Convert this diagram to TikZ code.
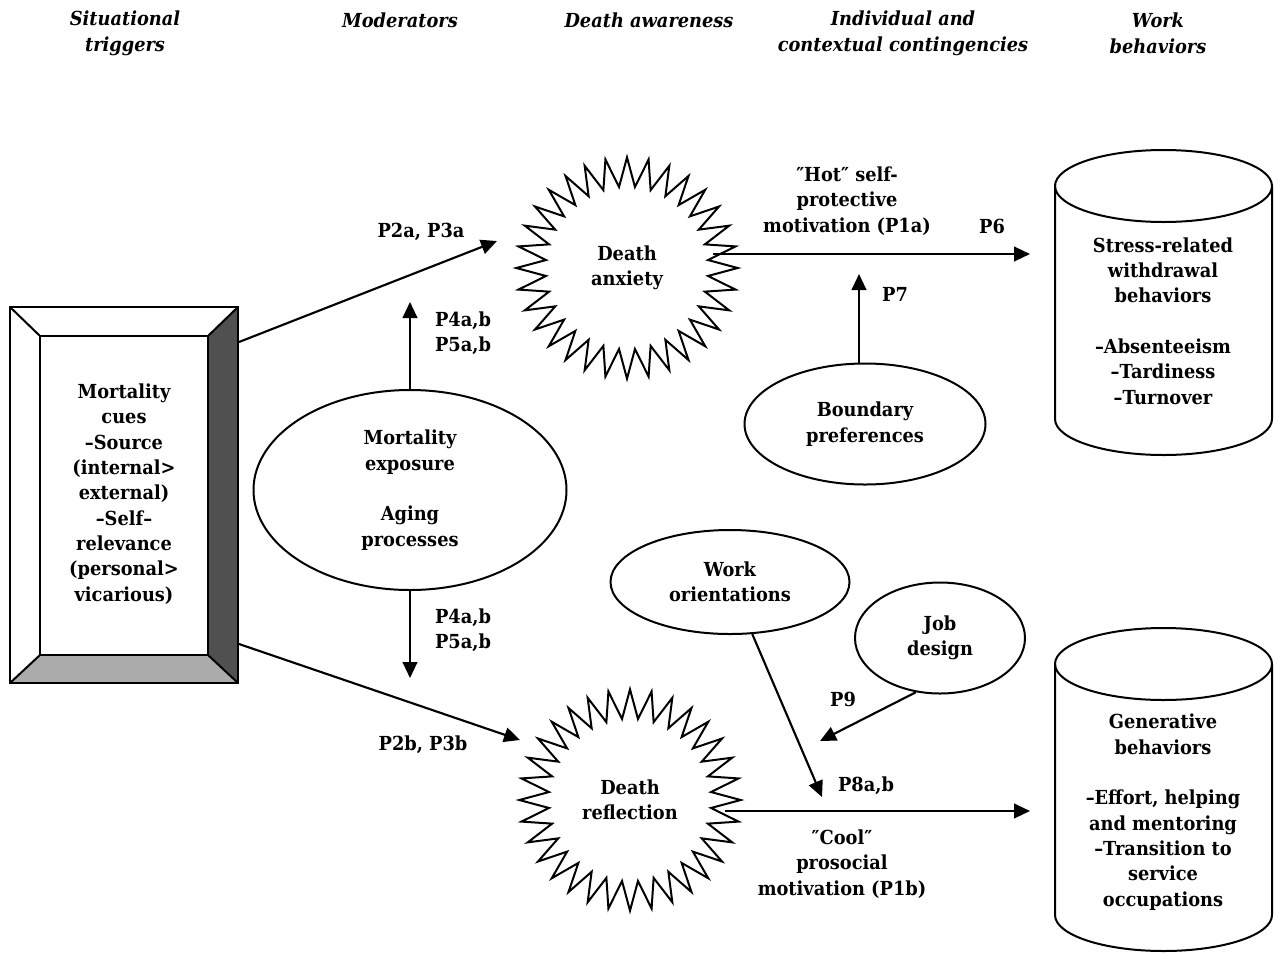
\documentclass[tikz,border=0pt]{standalone}
\usepackage{fontspec}
\setmainfont{DejaVu Serif}[FakeStretch=0.92]
\usetikzlibrary{shapes.geometric,arrows.meta}
\definecolor{darkband}{HTML}{505050}
\definecolor{lightband}{HTML}{ABABAB}
\begin{document}
\begin{tikzpicture}[x=0.75pt,y=-0.75pt,
  txt/.style={font=\bfseries\fontsize{14.5}{19}\selectfont, align=center, inner sep=0pt},
  hd/.style={font=\bfseries\itshape\fontsize{14.5}{19.5}\selectfont, align=center, inner sep=0pt},
  arr/.style={line width=1.6pt, -{Triangle[length=12pt,width=11pt]}},
  shapeline/.style={line width=1.5pt},
  ell/.style={draw, ellipse, line width=1.5pt, inner sep=0pt, font=\bfseries\fontsize{14.5}{19}\selectfont, align=center},
  burst/.style={draw, star, star points=32, star point ratio=1.36, line width=1.5pt, minimum size=166pt, inner sep=0pt, font=\bfseries\fontsize{14.5}{19}\selectfont, align=center}
]
\useasboundingbox (0,0) rectangle (1274,954);

% headings
\node[hd] (h1) at (125,33) {Situational\\triggers};
\node[hd] (h2) at (400,20) {Moderators};
\node[hd] (h3) at (649,20) {Death awareness};
\node[hd] (h4) at (903,33) {Individual and\\contextual contingencies};
\node[hd] (h5) at (1158,33) {Work\\behaviors};

% mortality cues bevelled box
\fill[darkband] (238,307) -- (238,683) -- (208,655) -- (208,336) -- cycle;
\fill[lightband] (10,683) -- (238,683) -- (208,655) -- (40,655) -- cycle;
\draw[shapeline] (40,336) rectangle (208,655);
\draw[shapeline] (10,307) -- (40,336) (238,307) -- (208,336) (10,683) -- (40,655) (238,683) -- (208,655);
\node[draw, line width=1.5pt, minimum width=171pt, minimum height=282pt, inner sep=0pt] (mcbox) at (124,495) {};
\node[txt] (mc) at (124,494) {Mortality\\cues\\–Source\\(internal>\\external)\\–Self–\\relevance\\(personal>\\vicarious)};

% moderators
\node[ell, minimum width=234.75pt, minimum height=150pt] (mod) at (410,490) {Mortality\\exposure\\[19pt]Aging\\processes};

% death awareness
\node[burst] (da) at (627,268) {Death\\anxiety};
\node[burst] (dr) at (630,800) {Death\\reflection};

% contingencies
\node[ell, minimum width=180.75pt, minimum height=90.75pt] (bp) at (865,424) {Boundary\\preferences};
\node[ell, minimum width=179.25pt, minimum height=78pt] (wo) at (730,582) {Work\\orientations};
\node[ell, minimum width=127.5pt, minimum height=83.25pt] (jd) at (940,638) {Job\\design};

% cylinders
\draw[shapeline] (1055,186) -- (1055,419) arc[start angle=180,end angle=0,x radius=108.5,y radius=36] -- (1272,186);
\draw[shapeline] (1163.5,186) ellipse[x radius=108.5,y radius=36];
\node[txt] (wb1) at (1163,321) {Stress-related\\withdrawal\\behaviors\\[19pt]–Absenteeism\\–Tardiness\\–Turnover};
\draw[shapeline] (1055,664) -- (1055,915) arc[start angle=180,end angle=0,x radius=108.5,y radius=36] -- (1272,664);
\draw[shapeline] (1163.5,664) ellipse[x radius=108.5,y radius=36];
\node[txt] (wb2) at (1163,812) {Generative\\behaviors\\[19pt]–Effort, helping\\and mentoring\\–Transition to\\service\\occupations};

% arrow end points
\coordinate (tA) at (497,241);
\coordinate (tB) at (520,740);
\coordinate (tUp) at (410,302);
\coordinate (tDn) at (410,678);
\coordinate (tW) at (1030,254);
\coordinate (tG) at (1030,811);
\coordinate (tP7) at (859,274);
\coordinate (tP8) at (822,797);
\coordinate (tP9) at (820,741);

% connectors
\draw[arr] ([shift={(0,36)}]mcbox.north east) -- (tA);
\draw[arr] ([shift={(0,-40)}]mcbox.south east) -- (tB);
\draw[arr] (mod.north) -- (tUp);
\draw[arr] (mod.south) -- (tDn);
\draw[arr] ([shift={(86,-14)}]da.center) -- (tW);
\draw[arr] ([shift={(95,11)}]dr.center) -- (tG);
\draw[arr] ([shift={(-6,0)}]bp.north) -- (tP7);
\draw[arr] (wo) -- (tP8);
\draw[arr] (jd.246) -- (tP9);

% labels
\node[txt] (l2a) at (421,232) {P2a, P3a};
\node[txt] (l4u) at (463,333) {P4a,b\\P5a,b};
\node[txt] (l4d) at (463,630) {P4a,b\\P5a,b};
\node[txt] (l2b) at (423,745) {P2b, P3b};
\node[txt] (lhot) at (847,201) {″Hot″ self-\\protective\\motivation (P1a)};
\node[txt] (l6) at (992,226) {P6};
\node[txt] (l7) at (895,294) {P7};
\node[txt] (l9) at (843,699) {P9};
\node[txt] (l8) at (866,786) {P8a,b};
\node[txt] (lcool) at (842,864) {″Cool″\\prosocial\\motivation (P1b)};
\end{tikzpicture}
\end{document}
